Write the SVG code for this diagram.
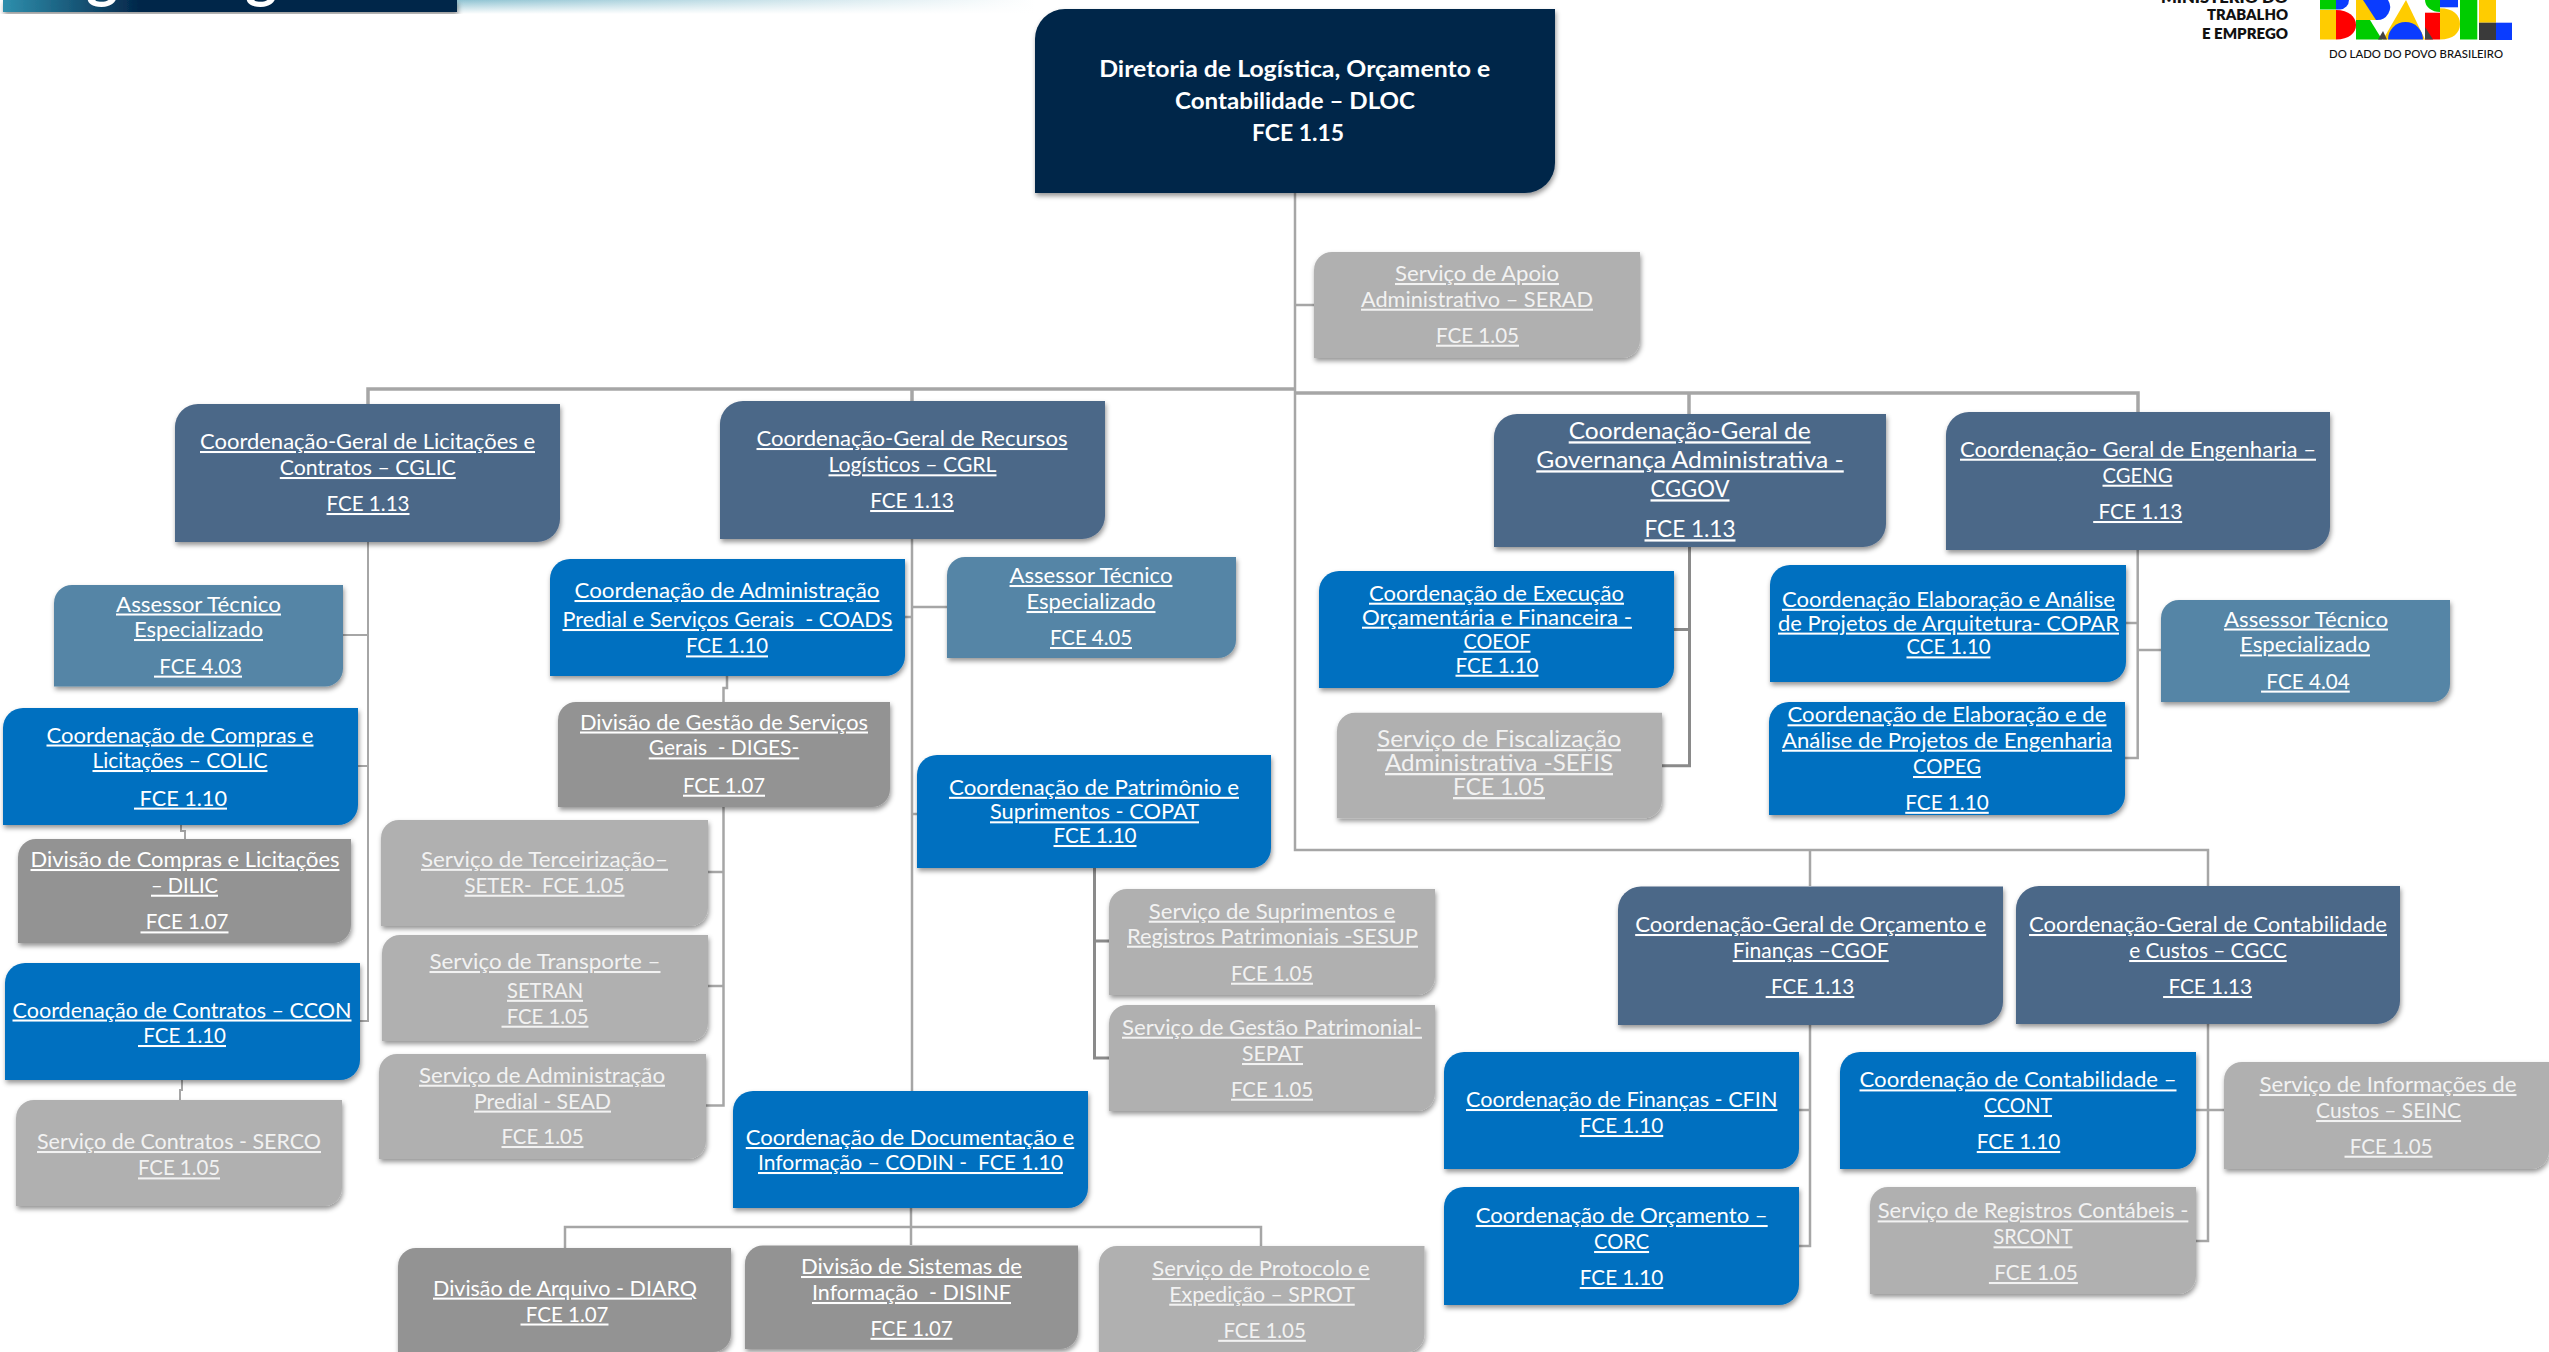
<svg xmlns="http://www.w3.org/2000/svg" width="2549" height="1352" viewBox="0 0 2549 1352">
<style>
text{font-family:Lato,"Open Sans","Liberation Sans",sans-serif;white-space:pre}
.t{font-size:20.5px;text-anchor:middle;fill:#fff;text-decoration:underline}
.g{fill:#f2f2f2}
.b{font-size:23px}
.d{font-size:23px;font-weight:700;text-anchor:middle;fill:#fff}
.m{font-weight:800;font-size:14px;fill:#111;text-anchor:end}
.s{filter:url(#sh)}
.dl{fill:#03274A}.cg{fill:#4B6788}.bl{fill:#0070C0}.st{fill:#5585A6}.lg{fill:#B0B0B0}.dg{fill:#939393}
#connectors path{fill:none;stroke:#A6A6A6;stroke-width:2.5}
#connectors path.k{stroke:#8A8A8A;stroke-width:3}
#connectors path.w{stroke-width:3.5}
#connectors path.h{stroke-width:2}
</style>
<defs>
<filter id="sh" x="-5%" y="-5%" width="112%" height="118%"><feDropShadow dx="1" dy="3" stdDeviation="2.5" flood-color="#000" flood-opacity="0.42"/></filter>
<linearGradient id="hb" x1="0" x2="1" y1="0" y2="0"><stop offset="0" stop-color="#2F8FAD"/><stop offset="0.3" stop-color="#03274A"/><stop offset="1" stop-color="#03274A"/></linearGradient>
<linearGradient id="st" x1="0" x2="1" y1="0" y2="0"><stop offset="0" stop-color="#8FC3D2"/><stop offset="1" stop-color="#fff"/></linearGradient>
<linearGradient id="fd" x1="0" x2="0" y1="0" y2="1"><stop offset="0" stop-color="#fff" stop-opacity="0"/><stop offset="1" stop-color="#fff"/></linearGradient>
</defs>
<rect width="2549" height="1352" fill="#fff"/>
<g id="header">
<rect x="457" y="0" width="578" height="14" fill="url(#st)"/>
<rect x="457" y="0" width="578" height="14" fill="url(#fd)"/>
<rect class="s" x="3" y="0" width="454" height="12" fill="url(#hb)"/>
<text x="102" y="-4" font-size="60" font-weight="700" fill="#fff" text-anchor="middle">g</text>
<text x="261" y="-4" font-size="60" font-weight="700" fill="#fff" text-anchor="middle">g</text>
</g>
<g id="logo">
<text class="m" x="2288" y="3" textLength="127" lengthAdjust="spacingAndGlyphs">MINISTÉRIO DO</text>
<text class="m" x="2288" y="20" textLength="81" lengthAdjust="spacingAndGlyphs">TRABALHO</text>
<text class="m" x="2288" y="39" textLength="86" lengthAdjust="spacingAndGlyphs">E EMPREGO</text>
<rect x="2320" y="0" width="16" height="9.5" fill="#00CC00"/>
<path d="M2336 0H2349A9.5 9.5 0 0 1 2340 9.5H2336Z" fill="#0A3CFF"/>
<rect x="2320" y="10" width="16" height="29.5" fill="#FFCC00"/>
<path d="M2336 10C2349 10 2356 17 2356 25C2356 33 2349 39.5 2336 39.5Z" fill="#F00"/>
<path d="M2356 0H2376L2378 20H2356Z" fill="#FFCC00"/>
<path d="M2363 0H2388A13 13 0 0 1 2376 20Z" fill="#0A3CFF"/>
<path d="M2356 20H2370L2382 39.5H2356Z" fill="#00CC00"/>
<path d="M2383 39.5L2406 0L2425 39.5Z" fill="#FFCC00"/>
<path d="M2378 39.5L2383 31L2387 39.5Z" fill="#444"/>
<path d="M2388 39.5A17.5 17.5 0 0 1 2423 39.5Z" fill="#0A3CFF"/>
<path d="M2425 0H2440V12A15 12 0 0 1 2425 0Z" fill="#00CC00"/>
<rect x="2425" y="12.7" width="15" height="26.8" fill="#F00"/>
<path d="M2425 27L2433 39.5H2425Z" fill="#444"/>
<rect x="2440" y="0" width="18" height="7.3" fill="#0A3CFF"/>
<path d="M2440 8.3C2453 8.3 2460 15 2460 24C2460 33 2453 39.5 2440 39.5Z" fill="#FFCC00"/>
<rect x="2460" y="0" width="17.3" height="39.5" fill="#00CC00"/>
<rect x="2479" y="0" width="17" height="22.7" fill="#FFCC00"/>
<rect x="2479" y="22.7" width="17" height="17.3" fill="#3A3A3A"/>
<rect x="2496" y="22.7" width="16" height="17.3" fill="#0A3CFF"/>
<text x="2416" y="58" font-size="11" font-weight="500" fill="#111" text-anchor="middle" textLength="174" lengthAdjust="spacingAndGlyphs">DO LADO DO POVO BRASILEIRO</text>
</g>
<g id="connectors">
<path d="M1295 193V850H2208V886M1810 850V886"/>
<path d="M1295 305H1314"/>
<path class="w" d="M1295 389H368V404M912 389V401"/>
<path class="w" d="M1295 393H2138V412M1689 393V414"/>
<path class="h" d="M368 542V1021H360M343 635H368M358 766H368"/>
<path class="h" d="M181 825V831H185V839M182 1080V1090H180V1100"/>
<path d="M912 539V1091M905 617H912M912 607H947M912 814H917"/>
<path d="M727 676V688H723.5V702"/>
<path d="M723.5 807V1105.5H706M708 872H723.5M708 986H723.5"/>
<path class="k" d="M1094.5 868V1058H1109M1094.5 941H1109"/>
<path d="M911 1208V1245M565 1248V1227H1261V1246"/>
<path class="k" d="M1689.5 547V765.7H1662M1674 629.5H1689.5"/>
<path d="M2137.7 549V758H2125M2126 623H2137.7M2137.7 650H2161"/>
<path d="M1810 1025V1246H1799M1799 1110H1810"/>
<path d="M2208 1024V1241H2196M2196 1110H2224"/>
</g>
<g id="DLOC"><path class="s dl" d="M1065 9H1555V163A30 30 0 0 1 1525 193H1035V39A30 30 0 0 1 1065 9Z"/>
<text class="d" x="1294.7" y="77.3" textLength="391" lengthAdjust="spacingAndGlyphs">Diretoria de Logística, Orçamento e</text>
<text class="d" x="1295" y="109.3" textLength="240" lengthAdjust="spacingAndGlyphs">Contabilidade – DLOC</text>
<text class="d" x="1298" y="141.3" textLength="92" lengthAdjust="spacingAndGlyphs">FCE 1.15</text></g>
<g id="SERAD"><path class="s lg" d="M1332 252H1640V340A18 18 0 0 1 1622 358H1314V270A18 18 0 0 1 1332 252Z"/>
<text class="t g" x="1477" y="281" textLength="164" lengthAdjust="spacingAndGlyphs">Serviço de Apoio</text>
<text class="t g" x="1477" y="306.7" textLength="232" lengthAdjust="spacingAndGlyphs">Administrativo – SERAD</text>
<text class="t g" x="1477.5" y="342.7" textLength="83" lengthAdjust="spacingAndGlyphs">FCE 1.05</text></g>
<g id="CGLIC"><path class="s cg" d="M198 404H560V519A23 23 0 0 1 537 542H175V427A23 23 0 0 1 198 404Z"/>
<text class="t" x="367.5" y="449" textLength="335" lengthAdjust="spacingAndGlyphs">Coordenação-Geral de Licitações e</text>
<text class="t" x="367.8" y="475" textLength="176" lengthAdjust="spacingAndGlyphs">Contratos – CGLIC</text>
<text class="t" x="368" y="511" textLength="83" lengthAdjust="spacingAndGlyphs">FCE 1.13</text></g>
<g id="CGRL"><path class="s cg" d="M743 401H1105V516A23 23 0 0 1 1082 539H720V424A23 23 0 0 1 743 401Z"/>
<text class="t" x="912" y="446" textLength="311" lengthAdjust="spacingAndGlyphs">Coordenação-Geral de Recursos</text>
<text class="t" x="912.5" y="472.3" textLength="168" lengthAdjust="spacingAndGlyphs">Logísticos – CGRL</text>
<text class="t" x="912" y="508" textLength="83.7" lengthAdjust="spacingAndGlyphs">FCE 1.13</text></g>
<g id="CGGOV"><path class="s cg" d="M1517 414H1886V524A23 23 0 0 1 1863 547H1494V437A23 23 0 0 1 1517 414Z"/>
<text class="t b" x="1689.7" y="439.3" textLength="242" lengthAdjust="spacingAndGlyphs">Coordenação-Geral de</text>
<text class="t b" x="1690" y="468.3" textLength="307.5" lengthAdjust="spacingAndGlyphs">Governança Administrativa -</text>
<text class="t b" x="1690" y="497.3" textLength="79" lengthAdjust="spacingAndGlyphs">CGGOV</text>
<text class="t b" x="1690" y="537.3" textLength="91" lengthAdjust="spacingAndGlyphs">FCE 1.13</text></g>
<g id="CGENG"><path class="s cg" d="M1969 412H2330V527A23 23 0 0 1 2307 550H1946V435A23 23 0 0 1 1969 412Z"/>
<text class="t" x="2138" y="456.7" textLength="356" lengthAdjust="spacingAndGlyphs">Coordenação- Geral de Engenharia –</text>
<text class="t" x="2137.5" y="482.7" textLength="70" lengthAdjust="spacingAndGlyphs">CGENG</text>
<text class="t" x="2137.7" y="519" textLength="89" lengthAdjust="spacingAndGlyphs"> FCE 1.13</text></g>
<g id="ASSESSOR403"><path class="s st" d="M72 585H343V668.5A18 18 0 0 1 325 686.5H54V603A18 18 0 0 1 72 585Z"/>
<text class="t" x="198.5" y="611.5" textLength="165" lengthAdjust="spacingAndGlyphs">Assessor Técnico</text>
<text class="t" x="198.5" y="637" textLength="129" lengthAdjust="spacingAndGlyphs">Especializado</text>
<text class="t" x="198" y="673.6" textLength="88" lengthAdjust="spacingAndGlyphs"> FCE 4.03</text></g>
<g id="COLIC"><path class="s bl" d="M23 708H358V805A20 20 0 0 1 338 825H3V728A20 20 0 0 1 23 708Z"/>
<text class="t" x="180" y="742.5" textLength="267" lengthAdjust="spacingAndGlyphs">Coordenação de Compras e</text>
<text class="t" x="180" y="768" textLength="175" lengthAdjust="spacingAndGlyphs">Licitações – COLIC</text>
<text class="t" x="180.5" y="805.6" textLength="93" lengthAdjust="spacingAndGlyphs"> FCE 1.10</text></g>
<g id="DILIC"><path class="s dg" d="M36 839H351V925A18 18 0 0 1 333 943H18V857A18 18 0 0 1 36 839Z"/>
<text class="t" x="185" y="867" textLength="309" lengthAdjust="spacingAndGlyphs">Divisão de Compras e Licitações</text>
<text class="t" x="184.5" y="892.7" textLength="67" lengthAdjust="spacingAndGlyphs">– DILIC</text>
<text class="t" x="184.5" y="929.4" textLength="88" lengthAdjust="spacingAndGlyphs"> FCE 1.07</text></g>
<g id="CCON"><path class="s bl" d="M25 963H360V1060A20 20 0 0 1 340 1080H5V983A20 20 0 0 1 25 963Z"/>
<text class="t" x="182" y="1017.5" textLength="339" lengthAdjust="spacingAndGlyphs">Coordenação de Contratos – CCON</text>
<text class="t" x="182" y="1043" textLength="88" lengthAdjust="spacingAndGlyphs"> FCE 1.10</text></g>
<g id="SERCO"><path class="s lg" d="M34 1100H342V1188A18 18 0 0 1 324 1206H16V1118A18 18 0 0 1 34 1100Z"/>
<text class="t g" x="179" y="1149" textLength="284" lengthAdjust="spacingAndGlyphs">Serviço de Contratos - SERCO</text>
<text class="t g" x="179" y="1175.4" textLength="82" lengthAdjust="spacingAndGlyphs">FCE 1.05</text></g>
<g id="COADS"><path class="s bl" d="M570 559H905V656A20 20 0 0 1 885 676H550V579A20 20 0 0 1 570 559Z"/>
<text class="t" x="727" y="598" textLength="305" lengthAdjust="spacingAndGlyphs">Coordenação de Administração</text>
<text class="t" x="727.5" y="627" textLength="330" lengthAdjust="spacingAndGlyphs">Predial e Serviços Gerais  - COADS</text>
<text class="t" x="727" y="653.4" textLength="82" lengthAdjust="spacingAndGlyphs">FCE 1.10</text></g>
<g id="ASSESSOR405"><path class="s st" d="M965 557H1236V640A18 18 0 0 1 1218 658H947V575A18 18 0 0 1 965 557Z"/>
<text class="t" x="1091" y="583" textLength="163" lengthAdjust="spacingAndGlyphs">Assessor Técnico</text>
<text class="t" x="1091" y="609" textLength="129" lengthAdjust="spacingAndGlyphs">Especializado</text>
<text class="t" x="1091" y="645" textLength="82" lengthAdjust="spacingAndGlyphs">FCE 4.05</text></g>
<g id="DIGES"><path class="s dg" d="M576 702H890V789A18 18 0 0 1 872 807H558V720A18 18 0 0 1 576 702Z"/>
<text class="t" x="724" y="729.5" textLength="288" lengthAdjust="spacingAndGlyphs">Divisão de Gestão de Serviços</text>
<text class="t" x="724" y="755.4" textLength="150.5" lengthAdjust="spacingAndGlyphs">Gerais  - DIGES-</text>
<text class="t" x="724" y="792.7" textLength="82" lengthAdjust="spacingAndGlyphs">FCE 1.07</text></g>
<g id="SETER"><path class="s lg" d="M399 820H708V908A18 18 0 0 1 690 926H381V838A18 18 0 0 1 399 820Z"/>
<text class="t g" x="544.5" y="866.8" textLength="247" lengthAdjust="spacingAndGlyphs">Serviço de Terceirização–</text>
<text class="t g" x="544.5" y="892.7" textLength="160" lengthAdjust="spacingAndGlyphs">SETER-  FCE 1.05</text></g>
<g id="SETRAN"><path class="s lg" d="M400 935H708V1023A18 18 0 0 1 690 1041H382V953A18 18 0 0 1 400 935Z"/>
<text class="t g" x="545" y="969" textLength="231" lengthAdjust="spacingAndGlyphs">Serviço de Transporte –</text>
<text class="t g" x="545" y="997.8" textLength="76" lengthAdjust="spacingAndGlyphs">SETRAN</text>
<text class="t g" x="545" y="1023.7" textLength="87" lengthAdjust="spacingAndGlyphs"> FCE 1.05</text></g>
<g id="SEAD"><path class="s lg" d="M397 1054H706V1141A18 18 0 0 1 688 1159H379V1072A18 18 0 0 1 397 1054Z"/>
<text class="t g" x="542" y="1082.7" textLength="246" lengthAdjust="spacingAndGlyphs">Serviço de Administração</text>
<text class="t g" x="542.5" y="1108.6" textLength="137" lengthAdjust="spacingAndGlyphs">Predial - SEAD</text>
<text class="t g" x="542.5" y="1144" textLength="82" lengthAdjust="spacingAndGlyphs">FCE 1.05</text></g>
<g id="COPAT"><path class="s bl" d="M937 755H1271V848A20 20 0 0 1 1251 868H917V775A20 20 0 0 1 937 755Z"/>
<text class="t" x="1094" y="794.8" textLength="290" lengthAdjust="spacingAndGlyphs">Coordenação de Patrimônio e</text>
<text class="t" x="1094.5" y="819.3" textLength="209" lengthAdjust="spacingAndGlyphs">Suprimentos - COPAT</text>
<text class="t" x="1095" y="843" textLength="83" lengthAdjust="spacingAndGlyphs">FCE 1.10</text></g>
<g id="SESUP"><path class="s lg" d="M1127 889H1435V977A18 18 0 0 1 1417 995H1109V907A18 18 0 0 1 1127 889Z"/>
<text class="t g" x="1272" y="918.7" textLength="246.5" lengthAdjust="spacingAndGlyphs">Serviço de Suprimentos e</text>
<text class="t g" x="1272.5" y="943.7" textLength="291" lengthAdjust="spacingAndGlyphs">Registros Patrimoniais -SESUP</text>
<text class="t g" x="1272" y="980.7" textLength="82" lengthAdjust="spacingAndGlyphs">FCE 1.05</text></g>
<g id="SEPAT"><path class="s lg" d="M1127 1005H1435V1093A18 18 0 0 1 1417 1111H1109V1023A18 18 0 0 1 1127 1005Z"/>
<text class="t g" x="1272" y="1034.7" textLength="300" lengthAdjust="spacingAndGlyphs">Serviço de Gestão Patrimonial-</text>
<text class="t g" x="1272.5" y="1061" textLength="61" lengthAdjust="spacingAndGlyphs">SEPAT</text>
<text class="t g" x="1272" y="1096.7" textLength="82" lengthAdjust="spacingAndGlyphs">FCE 1.05</text></g>
<g id="CODIN"><path class="s bl" d="M753 1091H1088V1188A20 20 0 0 1 1068 1208H733V1111A20 20 0 0 1 753 1091Z"/>
<text class="t" x="910" y="1145" textLength="328.5" lengthAdjust="spacingAndGlyphs">Coordenação de Documentação e</text>
<text class="t" x="910.5" y="1170" textLength="305" lengthAdjust="spacingAndGlyphs">Informação – CODIN -  FCE 1.10</text></g>
<g id="DIARQ"><path class="s dg" d="M416 1248H731V1334A18 18 0 0 1 713 1352H398V1266A18 18 0 0 1 416 1248Z"/>
<text class="t" x="565" y="1295.6" textLength="264" lengthAdjust="spacingAndGlyphs">Divisão de Arquivo - DIARQ</text>
<text class="t" x="564.5" y="1321.5" textLength="88" lengthAdjust="spacingAndGlyphs"> FCE 1.07</text></g>
<g id="DISINF"><path class="s dg" d="M763 1245.5H1078V1331A18 18 0 0 1 1060 1349H745V1263.5A18 18 0 0 1 763 1245.5Z"/>
<text class="t" x="911.5" y="1274" textLength="221" lengthAdjust="spacingAndGlyphs">Divisão de Sistemas de</text>
<text class="t" x="911.5" y="1300" textLength="199" lengthAdjust="spacingAndGlyphs">Informação  - DISINF</text>
<text class="t" x="911.5" y="1335.8" textLength="82" lengthAdjust="spacingAndGlyphs">FCE 1.07</text></g>
<g id="SPROT"><path class="s lg" d="M1117 1246H1424.5V1334A18 18 0 0 1 1406.5 1352H1099V1264A18 18 0 0 1 1117 1246Z"/>
<text class="t g" x="1261" y="1276" textLength="217.5" lengthAdjust="spacingAndGlyphs">Serviço de Protocolo e</text>
<text class="t g" x="1262" y="1301.7" textLength="185.5" lengthAdjust="spacingAndGlyphs">Expedição – SPROT</text>
<text class="t g" x="1262" y="1337.8" textLength="87.6" lengthAdjust="spacingAndGlyphs"> FCE 1.05</text></g>
<g id="COEOF"><path class="s bl" d="M1339 571H1674V668A20 20 0 0 1 1654 688H1319V591A20 20 0 0 1 1339 571Z"/>
<text class="t" x="1496.5" y="600.7" textLength="255" lengthAdjust="spacingAndGlyphs">Coordenação de Execução</text>
<text class="t" x="1497" y="624.7" textLength="270" lengthAdjust="spacingAndGlyphs">Orçamentária e Financeira -</text>
<text class="t" x="1497" y="648.7" textLength="67" lengthAdjust="spacingAndGlyphs">COEOF</text>
<text class="t" x="1497" y="672.7" textLength="83" lengthAdjust="spacingAndGlyphs">FCE 1.10</text></g>
<g id="SEFIS"><path class="s lg" d="M1355 712.7H1662V800.3A18 18 0 0 1 1644 818.3H1337V730.7A18 18 0 0 1 1355 712.7Z"/>
<text class="t b g" x="1499" y="747" textLength="244" lengthAdjust="spacingAndGlyphs">Serviço de Fiscalização</text>
<text class="t b g" x="1499" y="771" textLength="228" lengthAdjust="spacingAndGlyphs">Administrativa -SEFIS</text>
<text class="t b g" x="1499" y="795" textLength="92" lengthAdjust="spacingAndGlyphs">FCE 1.05</text></g>
<g id="COPAR"><path class="s bl" d="M1790 565H2126V662A20 20 0 0 1 2106 682H1770V585A20 20 0 0 1 1790 565Z"/>
<text class="t" x="1948.5" y="606.8" textLength="333" lengthAdjust="spacingAndGlyphs">Coordenação Elaboração e Análise</text>
<text class="t" x="1948.5" y="630.6" textLength="341" lengthAdjust="spacingAndGlyphs">de Projetos de Arquitetura- COPAR</text>
<text class="t" x="1948.5" y="654.4" textLength="84" lengthAdjust="spacingAndGlyphs">CCE 1.10</text></g>
<g id="COPEG"><path class="s bl" d="M1789 702H2125V795A20 20 0 0 1 2105 815H1769V722A20 20 0 0 1 1789 702Z"/>
<text class="t" x="1947" y="722.3" textLength="319" lengthAdjust="spacingAndGlyphs">Coordenação de Elaboração e de</text>
<text class="t" x="1947" y="747.7" textLength="330" lengthAdjust="spacingAndGlyphs">Análise de Projetos de Engenharia</text>
<text class="t" x="1947" y="774" textLength="68" lengthAdjust="spacingAndGlyphs">COPEG</text>
<text class="t" x="1947" y="809.8" textLength="83.5" lengthAdjust="spacingAndGlyphs">FCE 1.10</text></g>
<g id="ASSESSOR404"><path class="s st" d="M2179 600H2450V684A18 18 0 0 1 2432 702H2161V618A18 18 0 0 1 2179 600Z"/>
<text class="t" x="2306" y="626.5" textLength="164" lengthAdjust="spacingAndGlyphs">Assessor Técnico</text>
<text class="t" x="2305" y="652.4" textLength="130" lengthAdjust="spacingAndGlyphs">Especializado</text>
<text class="t" x="2305.4" y="688.6" textLength="88.7" lengthAdjust="spacingAndGlyphs"> FCE 4.04</text></g>
<g id="CGOF"><path class="s cg" d="M1641 886.5H2003V1002A23 23 0 0 1 1980 1025H1618V909.5A23 23 0 0 1 1641 886.5Z"/>
<text class="t" x="1810.7" y="932" textLength="351" lengthAdjust="spacingAndGlyphs">Coordenação-Geral de Orçamento e</text>
<text class="t" x="1810.7" y="958" textLength="156" lengthAdjust="spacingAndGlyphs">Finanças –CGOF</text>
<text class="t" x="1810" y="994" textLength="88.7" lengthAdjust="spacingAndGlyphs"> FCE 1.13</text></g>
<g id="CGCC"><path class="s cg" d="M2039 886H2400V1001A23 23 0 0 1 2377 1024H2016V909A23 23 0 0 1 2039 886Z"/>
<text class="t" x="2208" y="932" textLength="358" lengthAdjust="spacingAndGlyphs">Coordenação-Geral de Contabilidade</text>
<text class="t" x="2208" y="958" textLength="157.6" lengthAdjust="spacingAndGlyphs">e Custos – CGCC</text>
<text class="t" x="2207.6" y="994" textLength="89" lengthAdjust="spacingAndGlyphs"> FCE 1.13</text></g>
<g id="CFIN"><path class="s bl" d="M1464 1052H1799V1149A20 20 0 0 1 1779 1169H1444V1072A20 20 0 0 1 1464 1052Z"/>
<text class="t" x="1621.7" y="1107" textLength="311.4" lengthAdjust="spacingAndGlyphs">Coordenação de Finanças - CFIN</text>
<text class="t" x="1621.5" y="1133" textLength="83.5" lengthAdjust="spacingAndGlyphs">FCE 1.10</text></g>
<g id="CORC"><path class="s bl" d="M1464 1187H1799V1285A20 20 0 0 1 1779 1305H1444V1207A20 20 0 0 1 1464 1187Z"/>
<text class="t" x="1621.7" y="1223" textLength="292" lengthAdjust="spacingAndGlyphs">Coordenação de Orçamento –</text>
<text class="t" x="1621.6" y="1249" textLength="55" lengthAdjust="spacingAndGlyphs">CORC</text>
<text class="t" x="1621.5" y="1285" textLength="83.5" lengthAdjust="spacingAndGlyphs">FCE 1.10</text></g>
<g id="CCONT"><path class="s bl" d="M1860 1052H2196V1149A20 20 0 0 1 2176 1169H1840V1072A20 20 0 0 1 1860 1052Z"/>
<text class="t" x="2018" y="1087.4" textLength="317" lengthAdjust="spacingAndGlyphs">Coordenação de Contabilidade –</text>
<text class="t" x="2018" y="1113" textLength="68" lengthAdjust="spacingAndGlyphs">CCONT</text>
<text class="t" x="2018.5" y="1149" textLength="83.5" lengthAdjust="spacingAndGlyphs">FCE 1.10</text></g>
<g id="SRCONT"><path class="s lg" d="M1888 1187H2196V1276A18 18 0 0 1 2178 1294H1870V1205A18 18 0 0 1 1888 1187Z"/>
<text class="t g" x="2033" y="1218.4" textLength="310.7" lengthAdjust="spacingAndGlyphs">Serviço de Registros Contábeis -</text>
<text class="t g" x="2033" y="1244.3" textLength="79" lengthAdjust="spacingAndGlyphs">SRCONT</text>
<text class="t g" x="2033.4" y="1280" textLength="89" lengthAdjust="spacingAndGlyphs"> FCE 1.05</text></g>
<g id="SEINC"><path class="s lg" d="M2242 1062H2549V1151A18 18 0 0 1 2531 1169H2224V1080A18 18 0 0 1 2242 1062Z"/>
<text class="t g" x="2388" y="1092" textLength="257" lengthAdjust="spacingAndGlyphs">Serviço de Informações de</text>
<text class="t g" x="2388.6" y="1118" textLength="145" lengthAdjust="spacingAndGlyphs">Custos – SEINC</text>
<text class="t g" x="2388.5" y="1153.7" textLength="88" lengthAdjust="spacingAndGlyphs"> FCE 1.05</text></g>
</svg>
